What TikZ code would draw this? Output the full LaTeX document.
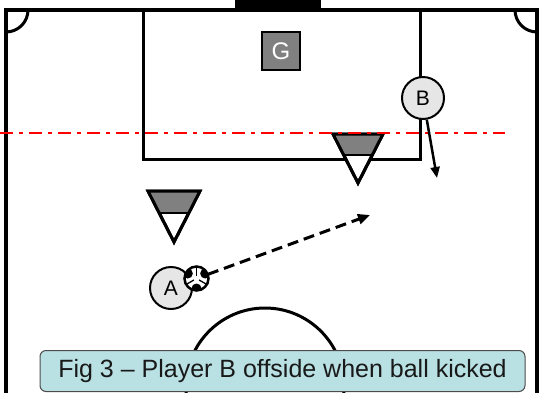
\documentclass[tikz,border=0pt]{standalone}
\usepackage{fontspec}
\setmainfont{Liberation Sans}
\usetikzlibrary{arrows.meta}
\definecolor{capfill}{RGB}{185,224,227}
\definecolor{plgray}{RGB}{230,230,230}
\definecolor{defgray}{RGB}{128,128,128}
\tikzset{
  fieldline/.style={line width=3.5pt, line cap=rect},
  boxline/.style={line width=3pt},
  player/.style={circle, draw=black, line width=2pt, fill=plgray, minimum size=42pt, inner sep=0pt, font=\fontsize{21}{21}\selectfont},
  keeper/.style={rectangle, draw=black, line width=1.5pt, fill=defgray, minimum width=38pt, minimum height=38pt, inner sep=0pt, text=white, font=\fontsize{24}{24}\selectfont},
  defender/.style={draw=black, line width=3pt, line join=miter, fill=white},
  offline/.style={red, line width=2.5pt, dash pattern=on 13pt off 6pt on 4pt off 6pt},
  runarrow/.style={line width=2.5pt, -{Triangle[length=11pt,width=9pt]}},
  passarrow/.style={line width=3pt, dash pattern=on 11pt off 6pt, -{Triangle[length=12pt,width=10pt]}},
  caption/.style={draw=black!70, line width=1pt, fill=capfill, rounded corners=6pt, minimum width=485pt, minimum height=41pt, inner sep=0pt, font=\fontsize{25}{25}\selectfont, text=black!90}
}
\begin{document}
\begin{tikzpicture}[x=1pt,y=-1pt]
\useasboundingbox (0,0) rectangle (539,392);
% field outline
\fill[black] (235,0) rectangle (321,11);
\draw[fieldline] (6,395) -- (6,10) -- (537,10) -- (537,395);
% corner arcs
\draw[line width=3pt] (6,32) arc[start angle=90, end angle=0, radius=22];
\draw[line width=3pt] (515,10) arc[start angle=180, end angle=90, radius=22];
% penalty box
\draw[boxline] (143,10) -- (143,159) -- (420,159) -- (420,10);
% center circle
\draw[line width=3pt] (265,387) circle[radius=79];
% keeper
\node[keeper] (G) at (281,51) {G};
% defenders
\draw[defender] (333,134) -- (383,134) -- (358,183) -- cycle;
\fill[defgray] (333,134) -- (383,134) -- (372.3,155) -- (343.7,155) -- cycle;
\draw[line width=2pt] (343.7,155) -- (372.3,155);
\draw[defender, fill=none] (333,134) -- (383,134) -- (358,183) -- cycle;
\draw[defender] (148,191) -- (200,191) -- (174,242) -- cycle;
\fill[defgray] (148,191) -- (200,191) -- (188.8,213) -- (159.2,213) -- cycle;
\draw[line width=2pt] (159.2,213) -- (188.8,213);
\draw[defender, fill=none] (148,191) -- (200,191) -- (174,242) -- cycle;
% offside line
\draw[offline] (0,133) -- (505,133);
% players
\node[player] (B) at (423,98) {B};
\node[player] (A) at (171,288) {A};
% ball
\node[circle, fill=white, minimum size=24pt, inner sep=0pt] (ball) at (196.5,278.5) {};
\begin{scope}
\clip (196.5,278.5) circle[radius=12];
\foreach \a in {90,210,330} {
  \fill[black] (196.5,278.5) ++(\a:10) circle[radius=5];
  \draw[line width=1.3pt] (196.5,278.5) ++(\a+60:3) -- ++(\a+60:9);
}
\end{scope}
\draw[line width=2.5pt] (ball) circle[radius=12];
% arrows
\coordinate (runend) at (437,178);
\coordinate (passend) at (370,215);
\draw[runarrow] (B) -- (runend);
\draw[passarrow] (ball) -- (passend);
% caption
\node[caption] (cap) at (282.5,371) {Fig 3 – Player B offside when ball kicked};
\end{tikzpicture}
\end{document}
